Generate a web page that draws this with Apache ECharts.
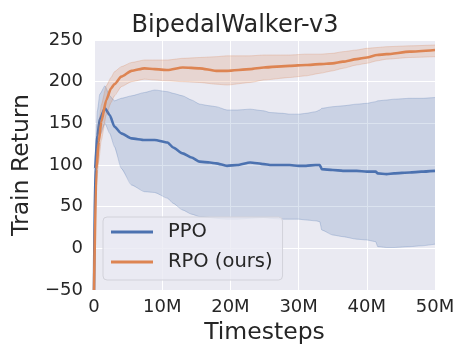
<!DOCTYPE html>
<html>
<head>
<meta charset="utf-8">
<script src="https://cdn.jsdelivr.net/npm/echarts@6/dist/echarts.min.js"></script>
<style>
  html, body { margin: 0; padding: 0; background: #fff; }
  #chart { width: 470px; height: 360px; }
</style>
</head>
<body>
<div id="chart"></div>
<script>
// timesteps in millions
const ppoT     = [0, 0.15, 0.5, 0.85, 1.6, 2.3, 3.0, 4.0, 5.5, 7.4, 8.9, 10.8, 11.6, 13.0, 14.3, 15.5, 17.0, 17.9, 19.5, 21.0, 22.9, 24.9, 25.8, 27.7, 28.7, 30.0, 31.1, 32.5, 33.1, 33.4, 35.0, 36.5, 38.5, 40.0, 41.3, 41.6, 42.9, 44.0, 46.3, 48.0, 50.0];
const ppoMean  = [-50, 95, 135, 155, 168, 160, 146, 138, 132, 130, 130, 127, 121, 114, 109, 104, 103, 102, 99, 100, 103, 101, 100, 100, 100, 99, 99, 100, 100, 95, 94, 93, 93, 92, 92, 90, 89, 90, 91, 92, 93];
const ppoUpper = [-50, 110, 165, 185, 195, 183, 177, 180, 183, 187, 190, 188, 186, 183, 178, 173, 171, 170, 166, 166, 167, 165, 163, 162, 161, 161, 162, 164, 166, 168, 170, 171, 173, 174, 176, 177, 178, 179, 180, 180, 181];
const ppoLower = [-50, 40, 100, 135, 150, 138, 122, 96, 76, 68, 67, 60, 54, 46, 41, 38, 37, 36, 35, 35, 36, 37, 36, 35, 35, 35, 34, 33, 32, 22, 16, 14, 11, 10, 8, 2, 1, 1, 2, 3, 5];

const rpoT     = [0, 0.35, 0.7, 1.07, 1.8, 2.5, 3.0, 4.0, 5.5, 7.4, 8.9, 10.8, 13.0, 15.5, 17.9, 19.5, 22.9, 24.9, 28.7, 31.1, 33.1, 35.0, 36.5, 38.5, 40.0, 41.5, 42.9, 46.3, 50.0];
const rpoMean  = [-50, 95, 128, 152, 178, 192, 197, 206, 213, 216, 215, 214, 217, 216, 213, 213, 215, 217, 219, 220, 221, 222, 224, 227, 229, 232, 233, 236, 238];
const rpoUpper = [-50, 115, 150, 172, 195, 205, 212, 218, 223, 226, 226, 226, 228, 229, 230, 231, 231, 232, 232, 233, 233, 234, 236, 238, 240, 241, 242, 243, 244];
const rpoLower = [-50, 75, 105, 130, 160, 175, 183, 194, 200, 203, 202, 201, 200, 199, 197, 196, 199, 202, 205, 207, 210, 213, 216, 220, 222, 225, 227, 229, 230];

const xTicks = [0, 10, 20, 30, 40, 50];
const yTicks = [-50, 0, 50, 100, 150, 200, 250];

const BLUE = "#4c72b0";
const ORANGE = "#dd8452";
const FONT = "DejaVu Sans";
const TEXT = "#262626";

function pairs(ts, vs) {
  return ts.map((t, i) => [t, vs[i]]);
}

function band(name, ts, lo, hi, fill) {
  return {
    name: name,
    type: "custom",
    silent: true,
    clip: true,
    data: [[0, 0]],
    renderItem: function (params, api) {
      const pts = [];
      for (let i = 0; i < ts.length; i++) pts.push(api.coord([ts[i], hi[i]]));
      for (let j = ts.length - 1; j >= 0; j--) pts.push(api.coord([ts[j], lo[j]]));
      return { type: "polygon", shape: { points: pts }, style: { fill: fill } };
    },
  };
}

function edge(name, ts, vs, color) {
  return {
    name: name,
    type: "line",
    data: pairs(ts, vs),
    symbol: "none",
    smooth: 0.2,
    smoothMonotone: "x",
    silent: true,
    lineStyle: { color: color, width: 1 },
  };
}

function mean(name, ts, vs, color) {
  return {
    name: name,
    type: "line",
    data: pairs(ts, vs),
    symbol: "none",
    smooth: 0.2,
    smoothMonotone: "x",
    itemStyle: { color: color },
    lineStyle: { color: color, width: 2.6 },
  };
}

const chart = echarts.init(document.getElementById("chart"), null, { renderer: "canvas" });

chart.setOption({
  animation: false,
  backgroundColor: "#ffffff",
  title: {
    text: "BipedalWalker-v3",
    left: "center",
    top: 14,
    padding: [0, 0, 0, 58],
    textStyle: { fontFamily: FONT, fontSize: 24, fontWeight: "normal", color: TEXT },
  },
  grid: {
    left: 94, right: 35, top: 40, bottom: 70,
    show: true, backgroundColor: "#eaeaf2", borderWidth: 0,
  },
  legend: {
    data: ["PPO", "RPO (ours)"],
    orient: "vertical",
    left: 103,
    top: 217,
    padding: [5, 10, 8, 8],
    itemGap: 10,
    itemWidth: 42,
    itemHeight: 3,
    icon: "rect",
    backgroundColor: "rgba(234,234,242,0.8)",
    borderColor: "#d2d2da",
    borderWidth: 1,
    borderRadius: 4,
    textStyle: { fontFamily: FONT, fontSize: 19.5, color: TEXT, padding: [0, 0, 0, 10] },
  },
  xAxis: {
    type: "value",
    min: xTicks[0],
    max: xTicks[xTicks.length - 1],
    interval: 10,
    name: "Timesteps",
    nameLocation: "middle",
    nameGap: 31,
    nameTextStyle: { fontFamily: FONT, fontSize: 23.5, color: TEXT },
    axisLine: { show: false },
    axisTick: { show: false },
    axisLabel: {
      margin: 8,
      fontFamily: FONT, fontSize: 18, color: TEXT,
      formatter: (v) => (v === 0 ? "0" : v + "M"),
    },
    splitLine: { show: true, lineStyle: { color: "#ffffff", width: 1 } },
  },
  yAxis: {
    type: "value",
    min: yTicks[0],
    max: yTicks[yTicks.length - 1],
    interval: 50,
    name: "Train Return",
    nameLocation: "middle",
    nameGap: 57,
    nameTextStyle: { fontFamily: FONT, fontSize: 23.5, color: TEXT },
    axisLine: { show: false },
    axisTick: { show: false },
    axisLabel: {
      margin: 11,
      fontFamily: FONT, fontSize: 18, color: TEXT,
      formatter: (v) => String(v).replace("-", "\u2212"),
    },
    splitLine: { show: true, lineStyle: { color: "#ffffff", width: 1 } },
  },
  series: [
    band("PPO band", ppoT, ppoLower, ppoUpper, "rgba(76,114,176,0.2)"),
    edge("PPO upper", ppoT, ppoUpper, "rgba(76,114,176,0.25)"),
    edge("PPO lower", ppoT, ppoLower, "rgba(76,114,176,0.25)"),
    mean("PPO", ppoT, ppoMean, BLUE),
    band("RPO band", rpoT, rpoLower, rpoUpper, "rgba(221,132,82,0.2)"),
    edge("RPO upper", rpoT, rpoUpper, "rgba(221,132,82,0.25)"),
    edge("RPO lower", rpoT, rpoLower, "rgba(221,132,82,0.25)"),
    mean("RPO (ours)", rpoT, rpoMean, ORANGE),
  ],
});
</script>
</body>
</html>
